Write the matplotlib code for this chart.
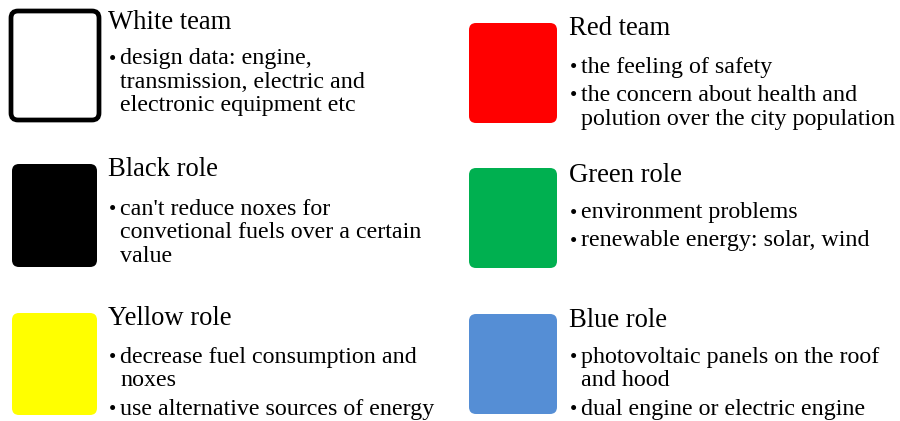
#!/usr/bin/env python3
"""Six hats roles: coloured boxes with headings and bullet notes."""

import matplotlib
matplotlib.use("Agg")
import matplotlib.pyplot as plt
from matplotlib.patches import FancyBboxPatch

# content
titles = ["White team", "Red team", "Black role", "Green role", "Yellow role", "Blue role"]
box_colors = ["#FFFFFF", "#FF0000", "#000000", "#00B050", "#FFFF00", "#558ED5"]
bullets = [
    [["design data: engine,", "transmission, electric and", "electronic equipment etc"]],
    [["the feeling of safety"],
     ["the concern about health and", "polution over the city population"]],
    [["can't reduce noxes for", "convetional fuels over a certain", "value"]],
    [["environment problems"], ["renewable energy: solar, wind"]],
    [["decrease fuel consumption and", "noxes"], ["use alternative sources of energy"]],
    [["photovoltaic panels on the roof", "and hood"], ["dual engine or electric engine"]],
]

# layout (pixels, origin top-left; y values are text baselines)
box_x = [11, 469, 12, 469, 12, 469]
box_y = [11, 23, 164, 168, 313, 314]
box_w = [88, 88, 85, 88, 85, 88]
box_h = [109, 100, 103, 100, 102, 100]
text_x = [108, 569, 108, 569, 108, 569]
title_base = [29, 35, 176, 182, 325, 327]
first_base = [64, 73, 215, 218, 363, 363]
line_step = 23.5
item_gap = 28.0

plt.rcParams["font.family"] = ["Liberation Serif", "DejaVu Serif"]

fig = plt.figure(figsize=(9.0, 4.21), dpi=100)
ax = fig.add_axes([0, 0, 1, 1])
ax.set_xlim(0, 900)
ax.set_ylim(421, 0)
ax.axis("off")

for i, title in enumerate(titles):
    white = box_colors[i] == "#FFFFFF"
    ax.add_patch(FancyBboxPatch(
        (box_x[i], box_y[i]), box_w[i], box_h[i],
        boxstyle="round,pad=0,rounding_size=7",
        facecolor=box_colors[i],
        edgecolor="black" if white else "none",
        linewidth=3.4 if white else 0,
    ))
    tx = text_x[i]
    ax.text(tx, title_base[i], title, fontsize=19.2, va="baseline", ha="left")

    y = first_base[i]
    for item in bullets[i]:
        ax.text(tx + 1, y + 0.5, "\u2022", fontsize=15, va="baseline", ha="left")
        for k, line in enumerate(item):
            ax.text(tx + 12, y, line, fontsize=17.3, va="baseline", ha="left")
            if k < len(item) - 1:
                y += line_step
        y += item_gap

fig.savefig("out.png", dpi=100)
plt.close(fig)
